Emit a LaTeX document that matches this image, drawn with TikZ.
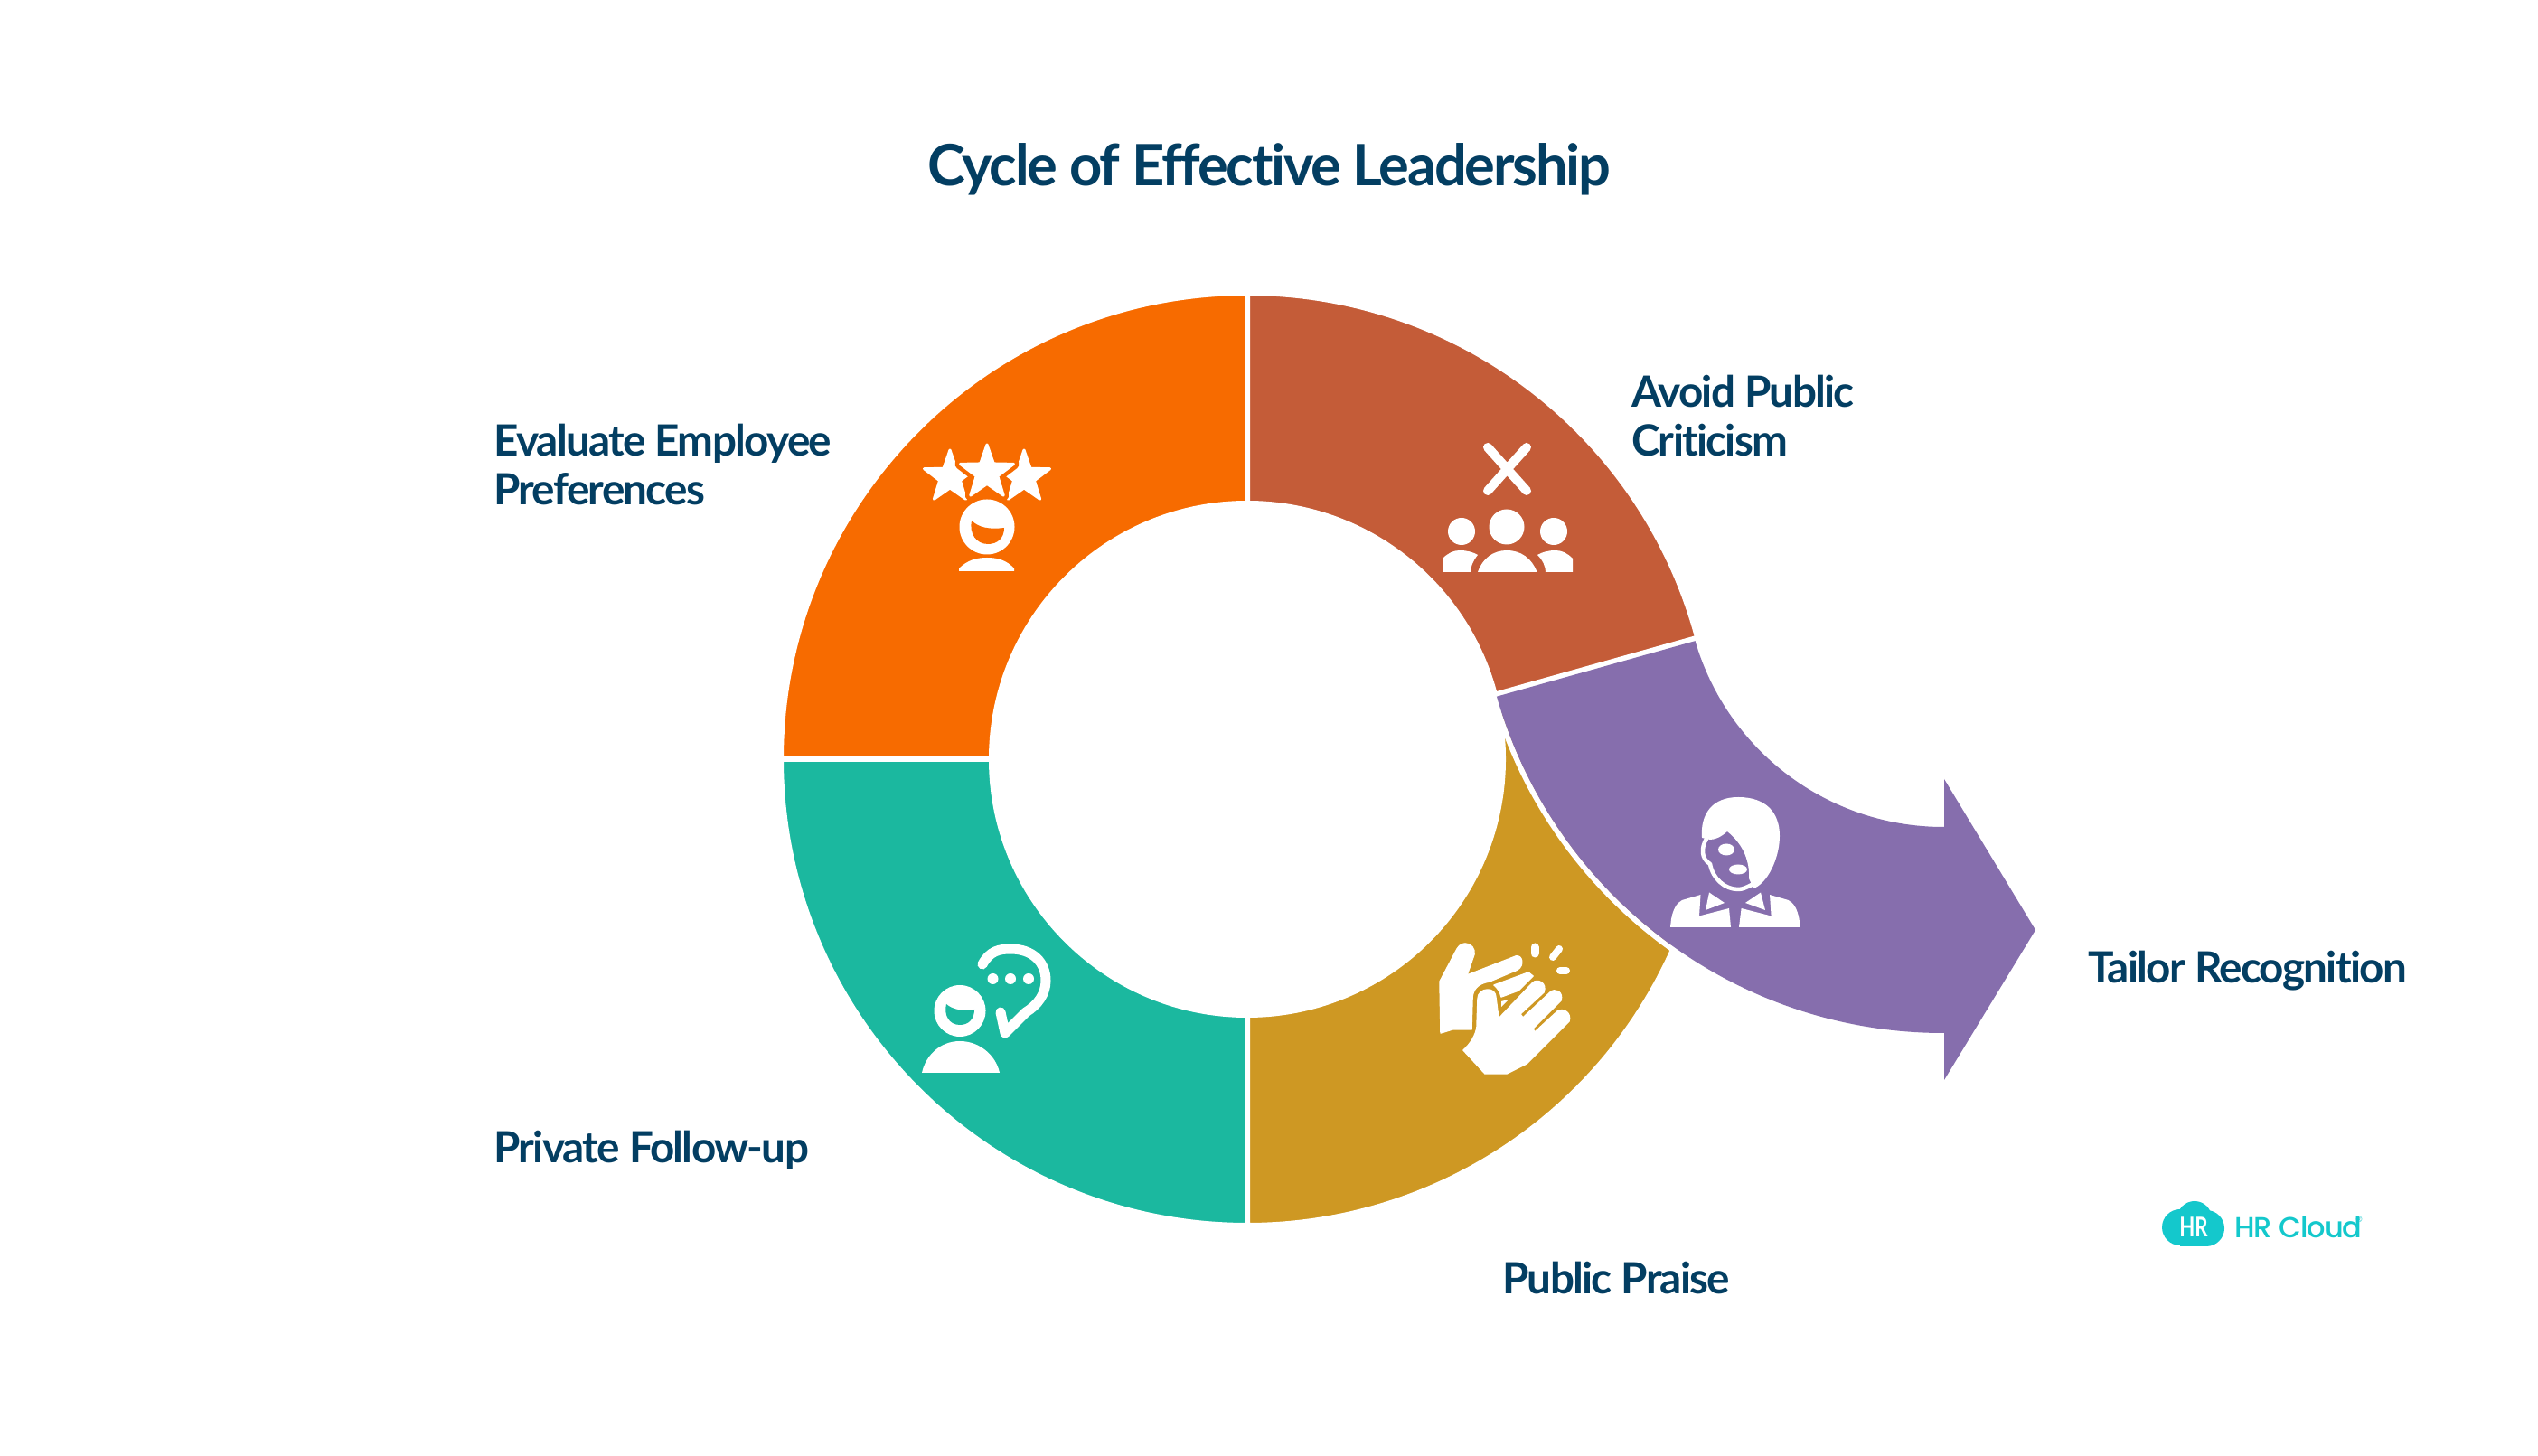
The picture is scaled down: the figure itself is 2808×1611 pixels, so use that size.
\documentclass[tikz,border=0pt]{standalone}
\usepackage{fontspec}
\setmainfont{Lato}[Ligatures=CommonOff,LetterSpace=-3.6]
\newfontfamily\logofont{Poppins Medium}[LetterSpace=-3]
\newfontfamily\logomarkfont{Lato}[Ligatures=CommonOff]
\usetikzlibrary{calc}
\definecolor{cOrange}{HTML}{F76B00}
\definecolor{cRed}{HTML}{C45C38}
\definecolor{cTeal}{HTML}{1BB89F}
\definecolor{cGold}{HTML}{CE9823}
\definecolor{cPurple}{HTML}{866EAD}
\definecolor{cNavy}{HTML}{033E62}
\definecolor{cLogo}{HTML}{14C8CC}
\tikzset{
  sector/.style={draw=white,line width=6pt,line join=miter},
  titletext/.style={anchor=base,text=cNavy,font=\fontsize{63.2}{70}\selectfont\bfseries,inner sep=0pt},
  labeltext/.style={anchor=base west,text=cNavy,font=\fontsize{47.6}{54}\selectfont\bfseries,inner sep=0pt,align=left},
  glyph/.style={fill=white,draw=white,line width=1.5pt,line join=round},
  stroke/.style={draw=white,line cap=round,line join=round,fill=none},
}
\newcommand{\starpath}[2]{% centre, radius
   ($(#1)+(-90:#2)$)
   \foreach \k in {0,...,4}{
     -- ($(#1)+({-90+36+72*\k}:{0.40*#2})$)
     -- ($(#1)+({-90+72+72*\k}:#2)$)
   } -- cycle}
\begin{document}
\begin{tikzpicture}[x=1pt,y=1pt]
\useasboundingbox (0,0) rectangle (2808,1611);
\fill[white] (0,0) rectangle (2808,1611);
\coordinate (C1) at (1380,771);
\coordinate (C2) at (2150,982);
% ring sectors
\fill[cOrange,sector] (C1) ++(90:516) arc[start angle=90,end angle=180,radius=516]
  -- ($(C1)+(180:283)$) arc[start angle=180,end angle=90,radius=283] -- cycle;
\fill[cTeal,sector] (C1) ++(180:516) arc[start angle=180,end angle=270,radius=516]
  -- ($(C1)+(270:283)$) arc[start angle=270,end angle=180,radius=283] -- cycle;
\fill[cGold,sector] (C1) ++(270:516) arc[start angle=270,end angle=340,radius=516]
  -- ($(C1)+(14:283)$) arc[start angle=14,end angle=-90,radius=283] -- cycle;
\fill[cRed,sector] (C1) ++(90:516) arc[start angle=90,end angle=15.09,radius=516]
  -- ($(C1)+(14.6:283)$) arc[start angle=14.6,end angle=90,radius=283] -- cycle;
\draw[white,line width=6pt] (C2) ++(195.2:517) arc[start angle=195.2,end angle=245,radius=517];
% arrow
\fill[cPurple] (C2) ++(196:514) arc[start angle=196,end angle=270,radius=514]
  -- (2151,468) -- (2151,416) -- (2252,582) -- (2151,749) -- (2151,696) -- (2150,696)
  arc[start angle=270,end angle=196.28,radius=286] -- cycle;
% text
\node[titletext] (title) at (1404,1405.5) {Cycle of Effective Leadership};
\node[labeltext,anchor=north west] (evaluate) at (546,1142) {Evaluate Employee\\Preferences};
\node[labeltext,anchor=north west] (avoid) at (1805,1196) {Avoid Public\\Criticism};
\node[labeltext] (tailor) at (2310,523.5) {Tailor Recognition};
\node[labeltext] (private) at (546,324.5) {Private Follow-up};
\node[labeltext] (public) at (1662,179.5) {Public Praise};
% logo
\fill[cLogo] (2412,253) circle[radius=20];
\fill[cLogo] (2428,263) circle[radius=19];
\fill[cLogo] (2441,252) circle[radius=20];
\fill[cLogo] (2412,232) rectangle (2441,262);
\node[inner sep=0pt,text=white,font=\logomarkfont\fontsize{30}{32}\selectfont\bfseries] (logomark) at (2427,253) {\scalebox{0.74}[1]{HR}};
\node[anchor=west,inner sep=0pt,text=cLogo,font=\logofont\fontsize{32}{36}\selectfont] (logotext) at (2472,253) {HR Cloud};
\node[inner sep=0pt,text=cLogo,font=\logomarkfont\fontsize{9}{10}\selectfont] (logoreg) at (2610,262) {®};
% icons, in y-down pixel coordinates
\begin{scope}[shift={(0,1611)},yscale=-1]
  % stars and person
  \fill[white,draw=white,line width=3pt,line join=round] \starpath{1051,528}{30};
  \fill[white,draw=white,line width=3pt,line join=round] \starpath{1133,528}{30};
  \fill[cOrange,draw=cOrange,line width=12pt,line join=round] \starpath{1092,523}{31};
  \fill[white,draw=white,line width=3pt,line join=round] \starpath{1092,523}{31};
  \fill[white] (1092,583) ellipse[x radius=30.5,y radius=30.5];
  \fill[cOrange] (1075,576) .. controls (1083,584) and (1095,586) .. (1111,584)
    .. controls (1111,596) and (1103,602) .. (1093,602) .. controls (1080,602) and (1072,590) .. (1075,576) -- cycle;
  \fill[white] (1061,629) .. controls (1070,620) and (1080,617) .. (1092,617) .. controls (1104,617) and (1114,620) .. (1122,629) -- (1122,632) -- (1061,632) -- cycle;
  % cross and people
  \draw[stroke,line width=10pt] (1646,495) -- (1689,543) (1689,495) -- (1646,543);
  \fill[white] (1667,583) circle[radius=19.5] (1617,588) circle[radius=15] (1719,588) circle[radius=15];
  \fill[white] (1635,633) .. controls (1640,618) and (1652,609) .. (1667,609) .. controls (1683,609) and (1695,618) .. (1700.5,633) -- cycle;
  \fill[white] (1596,633) -- (1596,618) .. controls (1602,612) and (1608,609) .. (1615,609) .. controls (1623,609) and (1630,611) .. (1635,614) .. controls (1630,620) and (1627,627) .. (1627,633) -- cycle;
  \fill[white] (1740,633) -- (1740,618) .. controls (1734,612) and (1728,609) .. (1721,609) .. controls (1713,609) and (1706,611) .. (1701,614) .. controls (1707,620) and (1710,627) .. (1710,633) -- cycle;
  % teal person and bubble
  \fill[white] (1062,1118.5) circle[radius=28.5];
  \fill[cTeal] (1047,1111) .. controls (1054,1117) and (1064,1119) .. (1078,1117) .. controls (1078,1127) and (1072,1134) .. (1062,1134) .. controls (1050,1134) and (1044,1123) .. (1047,1111) -- cycle;
  \fill[white] (1020,1187) .. controls (1024,1168) and (1040,1152) .. (1062,1152) .. controls (1084,1152) and (1102,1168) .. (1106,1187) -- cycle;
  \draw[stroke,line width=11pt] (1087,1067) .. controls (1095,1052) and (1106,1050) .. (1118,1050) .. controls (1143,1050) and (1157,1065) .. (1157,1085) .. controls (1157,1100) and (1148,1112) .. (1135,1120) -- (1112,1143) -- (1107,1120);
  \fill[white] (1098.5,1083) circle[radius=6] (1118,1083) circle[radius=6] (1138,1083) circle[radius=6];
  % clapping hands
  \fill[glyph] (1593,1086) -- (1612,1050) .. controls (1615,1044) and (1621,1044) .. (1621,1044) .. controls (1628,1044) and (1632,1050) .. (1631,1056) -- (1623,1079) -- (1677,1058) .. controls (1684,1056) and (1687,1068) .. (1679,1073) -- (1648,1086) .. controls (1635,1088) and (1629,1095) .. (1629,1105) -- (1628,1139) -- (1607,1139) -- (1594,1143) -- cycle;
  \fill[glyph] (1653,1090) -- (1691,1076) -- (1696,1080) -- (1680,1096) -- (1661,1103) .. controls (1660,1098) and (1657,1093) .. (1653,1090) -- cycle;
  \fill[white] (1661,1108) -- (1669,1106) -- (1661,1114) -- cycle;
  \fill[glyph] (1646,1095) .. controls (1640,1095) and (1635,1099) .. (1635,1105) -- (1634,1136) .. controls (1633,1145) and (1627,1155) .. (1619,1162) -- (1643,1188) -- (1667,1188) -- (1689,1177) -- (1736,1130) .. controls (1739,1120) and (1729,1115) .. (1723,1119) -- (1698,1142) -- (1696,1138) -- (1727,1107) .. controls (1730,1097) and (1720,1093) .. (1715,1098) -- (1685,1126) -- (1682,1122) -- (1708,1098) .. controls (1712,1087) and (1701,1083) .. (1696,1087) -- (1658,1127) -- (1655,1104) .. controls (1655,1098) and (1651,1095) .. (1646,1095) -- cycle;
  \draw[stroke,line width=9pt] (1698,1048) -- (1698,1055);
  \draw[stroke,line width=8pt] (1725,1050) -- (1718,1059);
  \draw[stroke,line width=8pt] (1726,1074) -- (1733,1074);
  % purple person
  \fill[white] (1883,927) .. controls (1881,900) and (1895,882) .. (1923,882) .. controls (1955,882) and (1969,900) .. (1969,925) .. controls (1969,950) and (1955,978) .. (1940,983) -- (1935,972) .. controls (1936,955) and (1930,935) .. (1911,920) .. controls (1904,926) and (1898,929) .. (1892,929) -- cycle;
  \draw[stroke,line width=4.5pt] (1888,928) .. controls (1882,938) and (1882,950) .. (1892,956) .. controls (1895,972) and (1908,984) .. (1923,984) .. controls (1928,984) and (1932,982) .. (1938,979);
  \fill[white] (1910,940) ellipse[x radius=9,y radius=6.5] (1923,962) ellipse[x radius=10,y radius=5.5];
  \fill[white] (1848,1026) -- (1849,1017) .. controls (1851,1006) and (1855,999) .. (1861,996) -- (1881.5,990) -- (1880,1013.5) -- (1913,1005) -- (1915,1026) -- cycle;
  \fill[white] (1891,987.5) -- (1908,999) -- (1887,1007) -- cycle;
  \fill[white] (1991.6,1026) -- (1990.6,1017) .. controls (1988.6,1006) and (1984.6,999) .. (1978.6,996) -- (1958,990) -- (1959.6,1013.5) -- (1926.6,1005) -- (1924,1026) -- cycle;
  \fill[white] (1948,987.5) -- (1931,999) -- (1953,1007) -- cycle;
\end{scope}
\end{tikzpicture}
\end{document}
